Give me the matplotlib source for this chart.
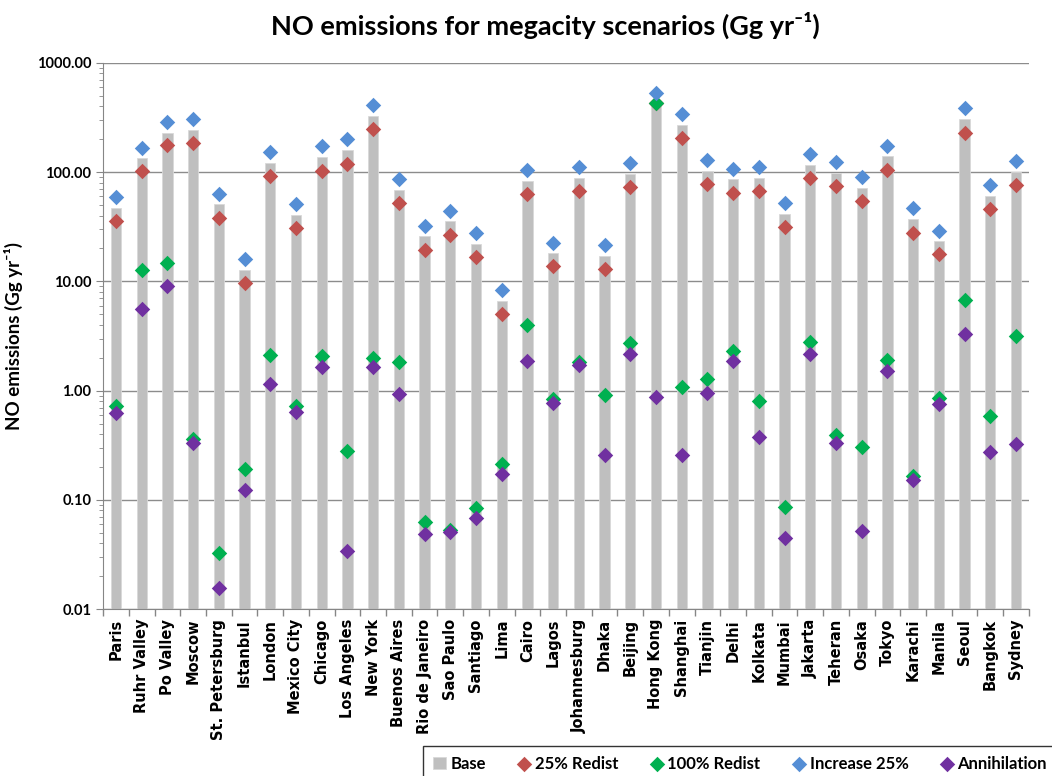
import numpy as np
import matplotlib.pyplot as plt
from matplotlib.ticker import LogLocator, FixedLocator, NullFormatter, FuncFormatter

cities = ["Paris", "Ruhr Valley", "Po Valley", "Moscow", "St. Petersburg", "Istanbul",
          "London", "Mexico City", "Chicago", "Los Angeles", "New York", "Buenos Aires",
          "Rio de Janeiro", "Sao Paulo", "Santiago", "Lima", "Cairo", "Lagos",
          "Johannesburg", "Dhaka", "Beijing", "Hong Kong", "Shanghai", "Tianjin",
          "Delhi", "Kolkata", "Mumbai", "Jakarta", "Teheran", "Osaka", "Tokyo",
          "Karachi", "Manila", "Seoul", "Bangkok", "Sydney"]

base = [47, 134, 230, 245, 50.7, 12.8, 122, 40.9, 137, 158, 326, 68.9,
        26.0, 35.6, 22.1, 6.6, 83, 18.1, 88.9, 17.0, 96.7, 436, 271, 103,
        86.1, 88.9, 41.5, 117, 97.5, 72.2, 139, 37.0, 23.3, 304, 60.5, 99.7]
redist25 = [35.6, 103, 177, 185, 38.1, 9.7, 92.3, 30.8, 103, 119, 247, 52.3,
            19.5, 26.8, 16.8, 5.0, 63.4, 13.7, 67.3, 13.0, 73.3, 430, 205, 78,
            64.9, 66.8, 31.5, 88.9, 73.9, 54.8, 105, 28.0, 17.7, 230, 45.5, 75.7]
redist100 = [0.72, 12.6, 14.6, 0.36, 0.033, 0.193, 2.10, 0.72, 2.07, 0.283, 1.98, 1.83,
             0.063, 0.053, 0.085, 0.213, 3.95, 0.83, 1.82, 0.91, 2.71, 426, 1.09, 1.27,
             2.32, 0.805, 0.087, 2.80, 0.394, 0.308, 1.90, 0.165, 0.85, 6.72, 0.592, 3.16]
increase25 = [59, 167, 286, 308, 63.4, 16.0, 153, 51.1, 172, 199, 410, 86.1,
              32.4, 44.5, 27.8, 8.26, 104, 22.6, 111, 21.3, 121, 525, 338, 129,
              107, 112, 52.3, 147, 123, 90.9, 173, 46.6, 29.2, 383, 75.7, 126]
annihilation = [0.625, 5.58, 9.0, 0.333, 0.0155, 0.123, 1.16, 0.634, 1.66, 0.034, 1.66, 0.925,
                0.049, 0.051, 0.069, 0.172, 1.86, 0.769, 1.71, 0.258, 2.15, 0.877, 0.258, 0.953,
                1.86, 0.379, 0.0444, 2.15, 0.333, 0.0518, 1.50, 0.152, 0.757, 3.31, 0.277, 0.327]

plt.rcParams['font.family'] = ['Lato', 'DejaVu Sans']

fig = plt.figure(figsize=(10.52, 7.76), dpi=100)
ax = fig.add_axes([0.098, 0.215, 0.88, 0.704])

x = np.arange(len(cities))
bars = ax.bar(x, base, width=0.4, color='#BFBFBF', edgecolor='#D9D9D9', linewidth=0.6,
              label='Base', zorder=2)
mk = dict(marker='D', s=62, linewidths=0, zorder=3)
s1 = ax.scatter(x, redist25, color='#C0504D', label='25% Redist', **mk)
s2 = ax.scatter(x, redist100, color='#00B050', label='100% Redist', **mk)
s3 = ax.scatter(x, increase25, color='#558ED5', label='Increase 25%', **mk)
s4 = ax.scatter(x, annihilation, color='#7030A0', label='Annihilation', **mk)

ax.set_yscale('log')
ax.set_ylim(0.01, 1000)
ax.set_xlim(-0.5, len(cities) - 0.5)
ax.yaxis.set_major_locator(LogLocator(base=10, numticks=10))
ax.yaxis.set_minor_locator(LogLocator(base=10, subs=np.arange(2, 10), numticks=10))
ax.yaxis.set_minor_formatter(NullFormatter())
ax.yaxis.set_major_formatter(FuncFormatter(lambda v, p: f"{v:.2f}"))
ax.grid(axis='y', which='major', color='#8C8C8C', linewidth=1, zorder=0)

ax.set_xticks(x)
ax.set_xticklabels(cities, rotation=90, fontsize=10.5, fontweight='bold',
                   family='DejaVu Sans')
ax.xaxis.set_minor_locator(FixedLocator(np.arange(-0.5, len(cities), 1)))
ax.tick_params(axis='x', which='major', length=0, pad=7)
ax.tick_params(axis='x', which='minor', length=5, color='#868686', width=1)
ax.tick_params(axis='y', which='major', length=5, color='#868686', labelsize=10.5)
ax.tick_params(axis='y', which='minor', length=3, color='#868686')
for lbl in ax.get_yticklabels():
    lbl.set_fontweight('bold')

for s in ['top', 'right']:
    ax.spines[s].set_visible(False)
for s in ['left', 'bottom']:
    ax.spines[s].set_color('#868686')

ax.set_ylabel('NO emissions (Gg yr\u207b\u00b9)', fontsize=13.5, fontweight='bold', labelpad=10)
fig.suptitle('NO emissions for megacity scenarios (Gg yr\u207b\u00b9)', fontsize=19.5,
             fontweight='bold', x=0.518, y=0.985)

leg = fig.legend(handles=[bars, s1, s2, s3, s4], loc='lower left',
                 bbox_to_anchor=(0.397, -0.014), ncol=5, frameon=True, fancybox=False,
                 edgecolor='black', handlelength=0.8, handletextpad=0.25,
                 columnspacing=1.9, borderpad=0.6, borderaxespad=0.3,
                 prop={'weight': 'bold', 'size': 12})
leg.get_frame().set_linewidth(1)

fig.savefig('out.png', dpi=100)
